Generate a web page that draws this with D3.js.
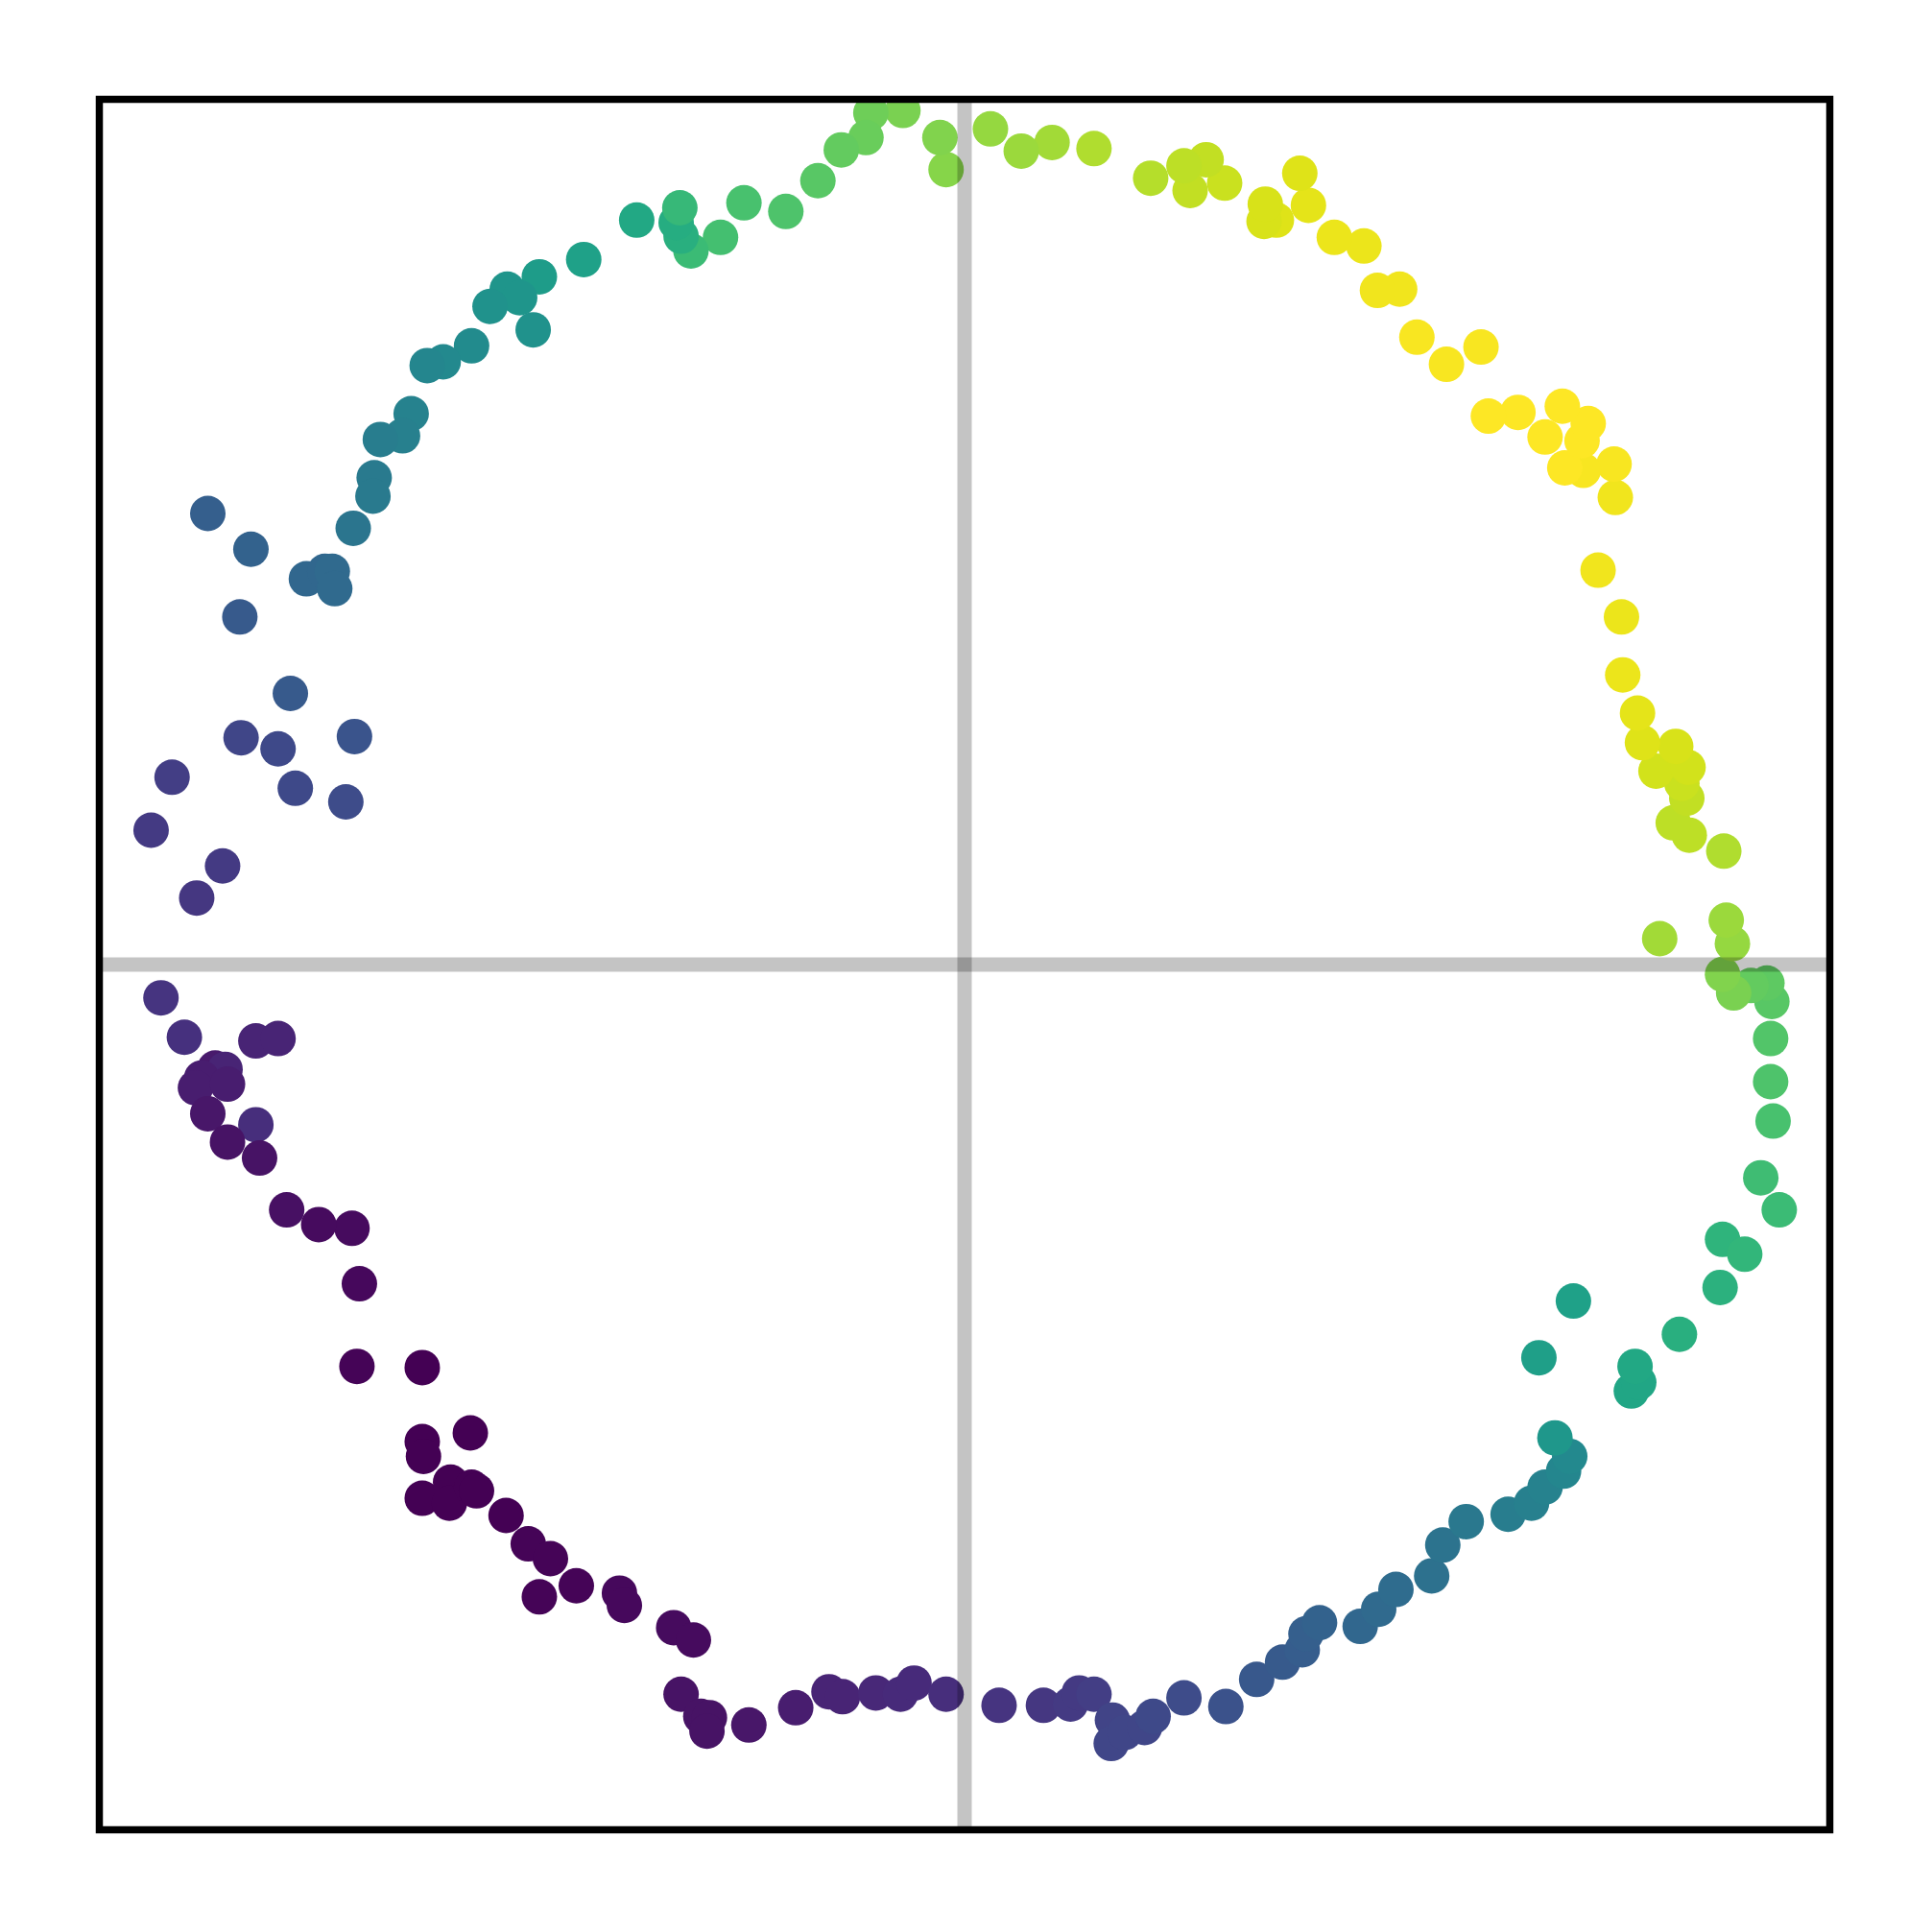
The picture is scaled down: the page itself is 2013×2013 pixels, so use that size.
<!DOCTYPE html>
<html>
<head>
<meta charset="utf-8">
<script src="https://cdn.jsdelivr.net/npm/d3@7"></script>
<style>
    body { margin: 0; background: #fff; }
</style>
</head>
<body>
<div id="chart"></div>
<script>
// point coordinates (x, y) and colour value (c, 0..1 on viridis)
var xs = [-4.93,-4.40,-4.91,-4.97,-5.24,-5.50,-4.40,-4.39,-4.01,-4.40,
          -4.17,-4.18,-4.00,-3.96,-3.72,-3.54,-3.36,-3.45,-3.15,-2.80,
          -2.76,-2.36,-2.20,-2.30,-2.14,-2.07,-2.09,-1.75,-1.37,-1.10,
          -0.99,-0.72,-0.52,-0.41,-0.15,0.28,0.64,0.86,0.93,1.05,
          1.20,1.19,1.30,1.46,1.53,1.78,2.12,2.37,2.58,2.74,
          2.77,2.88,3.21,3.36,3.50,3.79,3.88,4.07,4.41,4.60,
          4.71,4.86,4.91,4.79,4.66,4.94,5.41,5.47,5.44,5.80,
          6.13,6.15,6.33,6.61,6.46,6.56,6.54,6.54,6.55,6.51,
          6.38,6.24,6.15,6.23,6.18,5.64,6.16,5.88,5.75,5.86,
          5.82,5.61,5.87,5.77,5.50,5.46,5.34,5.33,5.14,5.28,
          5.27,5.02,4.87,5.01,5.06,4.71,4.85,4.49,4.25,4.19,
          3.91,3.67,3.53,3.35,3.24,3.00,2.79,2.72,2.53,2.43,
          2.44,2.11,1.96,1.83,1.78,1.51,1.05,0.71,0.46,0.21,
          -0.15,-0.20,-0.50,-0.76,-0.80,-1.00,-1.19,-1.45,-1.79,-1.98,
          -2.22,-2.30,-2.34,-2.31,-2.66,-3.09,-3.45,-3.71,-3.61,-3.85,
          -3.50,-4.00,-4.23,-4.36,-4.49,-4.56,-4.74,-4.79,-4.80,-4.96,
          -6.14,-5.79,-5.34,-5.19,-5.13,-5.11,-5.88,-5.47,-5.87,-5.57,
          -4.95,-5.43,-5.02,-6.43,-6.60,-6.02,-6.23,-6.52,-6.33,-5.75,
          -5.57,-6.08,-6.00,-6.19,-6.24,-5.98,-6.14,-5.75,-5.98,-5.72];
var ys = [-3.26,-3.27,-2.59,-2.14,-2.11,-1.99,-3.87,-3.99,-3.80,-4.33,
          -4.20,-4.37,-4.24,-4.27,-4.47,-4.70,-4.82,-5.13,-5.04,-5.10,
          -5.20,-5.38,-5.48,-5.92,-6.10,-6.11,-6.22,-6.17,-6.03,-5.90,
          -5.94,-5.91,-5.92,-5.83,-5.92,-6.01,-6.01,-6.00,-5.91,-5.92,
          -6.13,-6.32,-6.23,-6.19,-6.10,-5.95,-6.02,-5.80,-5.66,-5.56,
          -5.43,-5.34,-5.37,-5.23,-5.07,-4.96,-4.71,-4.52,-4.46,-4.37,
          -4.24,-4.11,-3.99,-3.84,-3.19,-2.73,-3.46,-3.39,-3.26,-3.00,
          -2.62,-2.23,-2.35,-1.99,-1.73,-1.27,-0.95,-0.60,-0.30,-0.15,
          -0.17,-0.23,-0.08,0.17,0.36,0.21,0.92,1.05,1.15,1.35,
          1.47,1.57,1.60,1.77,1.80,2.04,2.35,2.82,3.20,3.79,
          4.06,4.01,4.03,4.25,4.39,4.28,4.53,4.48,4.45,5.01,
          4.87,5.09,5.48,5.47,5.83,5.90,6.16,6.42,6.04,6.03,
          6.17,6.34,6.53,6.28,6.48,6.38,6.62,6.67,6.60,6.78,
          6.45,6.71,6.93,6.91,6.71,6.61,6.36,6.11,6.18,5.90,
          5.79,5.91,6.02,6.14,6.04,5.72,5.58,5.48,5.41,5.34,
          5.15,5.02,4.89,4.86,4.47,4.29,4.26,3.95,3.80,3.54,
          3.66,3.37,3.13,3.19,3.19,3.05,2.82,2.20,1.84,1.75,
          1.85,1.43,1.32,1.52,1.09,0.80,0.54,-0.27,-0.59,-0.62,
          -0.60,-0.84,-0.85,-0.92,-1.00,-0.97,-1.21,-1.30,-1.44,-1.57];
var cs = [0.01,0.00,0.02,0.03,0.03,0.04,0.00,0.00,0.00,0.00,
          0.00,0.00,0.00,0.00,0.00,0.01,0.01,0.01,0.01,0.02,
          0.02,0.03,0.03,0.05,0.05,0.05,0.05,0.06,0.08,0.10,
          0.10,0.11,0.12,0.12,0.13,0.15,0.16,0.17,0.17,0.18,
          0.20,0.21,0.21,0.21,0.22,0.23,0.25,0.27,0.28,0.29,
          0.30,0.31,0.33,0.34,0.35,0.37,0.38,0.40,0.42,0.43,
          0.44,0.46,0.47,0.53,0.56,0.57,0.59,0.59,0.60,0.63,
          0.64,0.65,0.66,0.68,0.69,0.71,0.72,0.73,0.74,0.75,
          0.76,0.80,0.81,0.84,0.85,0.86,0.88,0.90,0.90,0.91,
          0.92,0.93,0.93,0.94,0.95,0.96,0.97,0.97,0.98,0.98,
          0.99,0.99,1.00,1.00,1.00,1.00,1.00,1.00,1.00,0.99,
          0.99,0.99,0.98,0.98,0.97,0.97,0.96,0.95,0.95,0.94,
          0.94,0.92,0.91,0.91,0.90,0.89,0.88,0.86,0.85,0.84,
          0.82,0.81,0.80,0.78,0.77,0.76,0.74,0.72,0.71,0.70,
          0.68,0.63,0.62,0.67,0.60,0.57,0.55,0.52,0.52,0.51,
          0.51,0.48,0.47,0.46,0.44,0.43,0.42,0.41,0.41,0.39,
          0.30,0.31,0.33,0.33,0.34,0.34,0.28,0.28,0.21,0.22,
          0.26,0.22,0.23,0.18,0.17,0.17,0.16,0.15,0.14,0.10,
          0.10,0.07,0.10,0.08,0.08,0.08,0.06,0.13,0.05,0.05];

var xDomain = [-7.02, 7.02];
var yDomain = [-7.02, 7.02];

function init(){
    var w = 2013;
    var h = 2013;
    var left = 103.5, top = 103.5, size = 1803;

    var dataset = xs.map(function(d,i){
        return {x: d, y: ys[i], c: cs[i]};
    });

    var xScale = d3.scaleLinear()
        .domain(xDomain)
        .range([left, left + size]);

    var yScale = d3.scaleLinear()
        .domain(yDomain)
        .range([top + size, top]);

    var svg = d3.select("#chart")
        .append("svg")
        .attr("width", w)
        .attr("height", h);

    svg.append("defs")
        .append("clipPath")
        .attr("id", "plot")
        .append("rect")
        .attr("x", left)
        .attr("y", top)
        .attr("width", size)
        .attr("height", size);

    var plot = svg.append("g")
        .attr("clip-path", "url(#plot)");

    plot.selectAll("circle")
        .data(dataset)
        .enter()
        .append("circle")
        .attr("cx", function(d){ return xScale(d.x); })
        .attr("cy", function(d){ return yScale(d.y); })
        .attr("r", 18.5)
        .attr("fill", function(d){ return d3.interpolateViridis(d.c); });

    // zero lines, drawn over the points
    plot.append("line")
        .attr("x1", xScale(0)).attr("x2", xScale(0))
        .attr("y1", top).attr("y2", top + size)
        .attr("stroke", "#000")
        .attr("stroke-opacity", 0.23)
        .attr("stroke-width", 15);
    plot.append("line")
        .attr("x1", left).attr("x2", left + size)
        .attr("y1", yScale(0)).attr("y2", yScale(0))
        .attr("stroke", "#000")
        .attr("stroke-opacity", 0.23)
        .attr("stroke-width", 15);

    svg.append("rect")
        .attr("x", left)
        .attr("y", top)
        .attr("width", size)
        .attr("height", size)
        .attr("fill", "none")
        .attr("stroke", "#000")
        .attr("stroke-width", 7.5);
}
window.onload = init;
</script>
</body>
</html>
